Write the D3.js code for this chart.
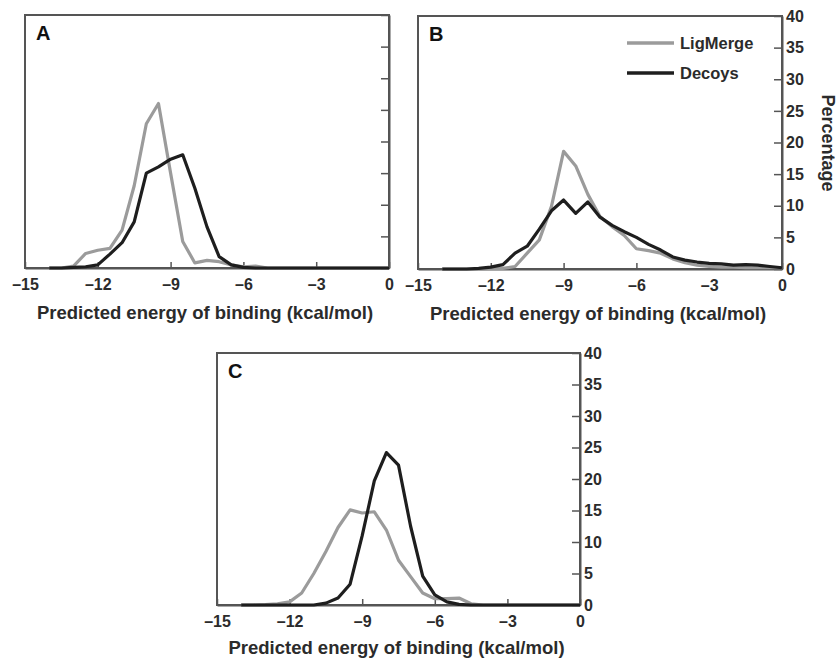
<!DOCTYPE html>
<html><head><meta charset="utf-8">
<script src="https://cdn.jsdelivr.net/npm/d3@7"></script>
<style>
html,body{margin:0;padding:0;background:#fff;}
svg{display:block;font-family:"Liberation Sans",Arial,sans-serif;font-weight:bold;}
</style></head>
<body>
<svg id="chart" width="838" height="658"></svg>
<script>
// Energy bins (kcal/mol)
const energies = [-14,-13.5,-13,-12.5,-12,-11.5,-11,-10.5,-10,-9.5,-9,-8.5,-8,-7.5,-7,-6.5,-6,-5.5,-5,-4.5,-4,-3.5,-3,-2.5,-2,-1.5,-1,-0.5,0];
// Panel A
const ligA   = [0,0,0.3,2.3,2.8,3.1,6,13,22.8,26,15,4.2,0.8,1.2,1.0,0.5,0.2,0.3,0,0,0,0,0,0,0,0,0,0,0];
const decoyA = [0,0,0.1,0.2,0.5,2.2,4,7.3,15,16,17.2,17.9,12.6,6.5,1.8,0.5,0.1,0,0,0,0,0,0,0,0,0,0,0,0];
// Panel B
const ligB   = [0,0,0,0,0.1,0.1,0.4,2.5,4.6,9.9,18.6,16.3,11.8,8.3,6.7,5.3,3.2,2.9,2.5,1.6,1.0,0.6,0.4,0.3,0.3,0.2,0.2,0.2,0.2];
const decoyB = [0,0,0,0.1,0.3,0.7,2.5,3.6,6.3,9.2,10.9,8.8,10.6,8.2,6.9,5.9,5.0,3.9,3.0,1.9,1.4,1.1,0.9,0.8,0.6,0.7,0.6,0.4,0.2];
// Panel C
const ligC   = [0,0,0.05,0.2,0.5,1.9,5.0,8.5,12.3,15.1,14.6,14.8,11.9,7.1,4.5,1.9,1.0,1.0,1.1,0.2,0,0,0,0,0,0,0,0,0];
const decoyC = [0,0,0,0,0,0,0,0.3,1.1,3.3,11,19.7,24.2,22.2,12.5,4.6,1.6,0.5,0.1,0,0,0,0,0,0,0,0,0,0];

const xTicks = [-15,-12,-9,-6,-3,0];
const yTicks = [0,5,10,15,20,25,30,35,40];
const seriesNames = ["LigMerge","Decoys"];
const xTitle = "Predicted energy of binding (kcal/mol)";
const yTitle = "Percentage";

const colGray = "#9b9b9b", colBlack = "#1e1e1e", frameCol = "#555", textCol = "#2b2b2b";
const svg = d3.select("#chart");

function panel(o){
  const x = d3.scaleLinear().domain([-15,0]).range([o.l,o.r]);
  const y = d3.scaleLinear().domain([0,40]).range([o.b,o.t]);
  const g = svg.append("g");
  g.append("rect").attr("x",o.l).attr("y",o.t).attr("width",o.r-o.l).attr("height",o.b-o.t)
    .attr("fill","none").attr("stroke",frameCol).attr("stroke-width",2);
  const xa = g.append("g").attr("transform",`translate(0,${o.b})`)
    .call(d3.axisBottom(x).tickValues(xTicks).tickSizeInner(-6).tickSizeOuter(0).tickPadding(11)
      .tickFormat(d=> d<0 ? "\u2013"+Math.abs(d) : String(d)));
  xa.select(".domain").attr("stroke",frameCol).attr("stroke-width",2);
  xa.selectAll(".tick line").attr("stroke",frameCol).attr("stroke-width",1.5);
  xa.selectAll("text").attr("fill",textCol).style("font-size","16px").style("font-weight","bold")
    .style("font-family","Liberation Sans, Arial, sans-serif");
  const ya = g.append("g").attr("transform",`translate(${o.r},0)`)
    .call(d3.axisRight(y).tickValues(yTicks).tickSizeInner(-8).tickSizeOuter(0).tickPadding(4)
      .tickFormat(o.yLabels ? d3.format("d") : ()=>""));
  ya.select(".domain").attr("stroke",frameCol).attr("stroke-width",2);
  ya.selectAll(".tick line").attr("stroke",frameCol).attr("stroke-width",1.5);
  ya.selectAll("text").attr("fill",textCol).style("font-size","16px").style("font-weight","bold")
    .style("font-family","Liberation Sans, Arial, sans-serif");
  const line = d3.line().x((d,i)=>x(energies[i])).y(d=>y(d));
  g.append("path").datum(o.lig).attr("d",line).attr("fill","none").attr("stroke",colGray)
    .attr("stroke-width",3.2).attr("stroke-linejoin","round");
  g.append("path").datum(o.dec).attr("d",line).attr("fill","none").attr("stroke",colBlack)
    .attr("stroke-width",3.2).attr("stroke-linejoin","round");
  g.append("text").attr("x",o.l+11).attr("y",o.t+25).text(o.letter)
    .attr("fill","#111").style("font-size","20px");
  g.append("text").attr("x",(o.l+o.r)/2-2).attr("y",o.b+o.titleDy).attr("text-anchor","middle")
    .text(xTitle).attr("fill",textCol).style("font-size","18.5px");
  return {x,y,g};
}

panel({l:25,r:389,t:15,b:268,lig:ligA,dec:decoyA,letter:"A",yLabels:false,titleDy:51});
panel({l:418,r:782,t:16,b:269,lig:ligB,dec:decoyB,letter:"B",yLabels:true,titleDy:51});
panel({l:217,r:580,t:353,b:605,lig:ligC,dec:decoyC,letter:"C",yLabels:true,titleDy:49});

const leg = svg.append("g");
const legY = [43,73], legCols = [colGray,colBlack];
seriesNames.forEach((n,i)=>{
  leg.append("line").attr("x1",627).attr("x2",674).attr("y1",legY[i]).attr("y2",legY[i])
    .attr("stroke",legCols[i]).attr("stroke-width",3.5);
  leg.append("text").attr("x",680).attr("y",legY[i]+6).text(n).attr("fill",textCol).style("font-size","16.5px");
});
svg.append("text").attr("transform","translate(822,143) rotate(90)").attr("text-anchor","middle")
  .text(yTitle).attr("fill",textCol).style("font-size","18px");
</script>
</body></html>
